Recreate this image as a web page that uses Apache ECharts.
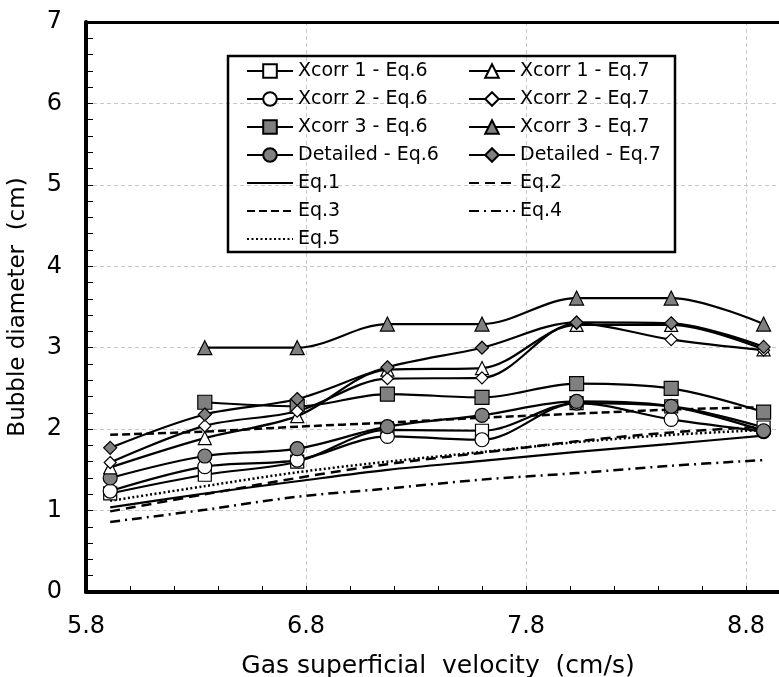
<!DOCTYPE html>
<html>
<head>
<meta charset="utf-8">
<script src="https://cdn.jsdelivr.net/npm/echarts@6/dist/echarts.min.js"></script>
<style>
html, body { margin: 0; padding: 0; background: #fff; }
#chart { width: 779px; height: 677px; }
</style>
</head>
<body>
<div id="chart"></div>
<script>
// gas superficial velocity (cm/s)
const xVals = [5.91, 6.34, 6.76, 7.17, 7.60, 8.03, 8.46, 8.88];

// bubble diameter (cm)
const xcorr1Eq6 = [1.21, 1.44, 1.60, 1.99, 1.98, 2.32, 2.28, 2.02];
const xcorr2Eq6 = [1.24, 1.54, 1.62, 1.91, 1.87, 2.32, 2.12, 1.97];
const xcorr3Eq6 = [null, 2.33, 2.28, 2.43, 2.39, 2.56, 2.50, 2.21];
const detailedEq6 = [1.40, 1.67, 1.76, 2.03, 2.17, 2.34, 2.28, 1.98];
const xcorr1Eq7 = [1.53, 1.89, 2.16, 2.73, 2.75, 3.28, 3.28, 2.98];
const xcorr2Eq7 = [1.59, 2.04, 2.22, 2.62, 2.63, 3.30, 3.10, 2.97];
const xcorr3Eq7 = [null, 3.00, 3.00, 3.29, 3.29, 3.61, 3.61, 3.29];
const detailedEq7 = [1.77, 2.18, 2.37, 2.76, 3.00, 3.31, 3.30, 3.01];

// correlations
const eq1 = [1.04, 1.21, 1.36, 1.50, 1.61, 1.72, 1.82, 1.92];
const eq2 = [0.99, 1.20, 1.40, 1.57, 1.71, 1.85, 1.96, 2.03];
const eq3 = [1.93, 1.97, 2.03, 2.08, 2.14, 2.19, 2.24, 2.27];
const eq4 = [0.86, 1.01, 1.17, 1.27, 1.38, 1.46, 1.55, 1.62];
const eq5 = [1.12, 1.30, 1.47, 1.60, 1.72, 1.84, 1.93, 1.99];

const legendLeft = ['Xcorr 1 - Eq.6', 'Xcorr 2 - Eq.6', 'Xcorr 3 - Eq.6', 'Detailed - Eq.6', 'Eq.1', 'Eq.3', 'Eq.5'];
const legendRight = ['Xcorr 1 - Eq.7', 'Xcorr 2 - Eq.7', 'Xcorr 3 - Eq.7', 'Detailed - Eq.7', 'Eq.2', 'Eq.4'];

const GREY = '#808080';
const FONT = 'DejaVu Sans';

function pts(vals) {
  const out = [];
  vals.forEach((v, i) => { if (v != null) out.push([xVals[i], v]); });
  return out;
}

// marker series
function mk(name, vals, symbol, size, fill) {
  return {
    name: name,
    type: 'line',
    data: pts(vals),
    smooth: 0.33,
    symbol: symbol,
    symbolSize: size,
    showAllSymbol: true,
    itemStyle: { color: fill, borderColor: '#000', borderWidth: 1.2 },
    lineStyle: { color: '#000', width: 2.2 },
    emphasis: { disabled: true },
    z: 3
  };
}

// equation curves, no markers (legend symbol made invisible)
function eq(name, vals, dash, width) {
  return {
    name: name,
    type: 'line',
    data: pts(vals),
    smooth: 0.33,
    symbol: 'none',
    itemStyle: { color: 'rgba(0,0,0,0)', borderWidth: 0 },
    lineStyle: { color: '#000', width: width, type: dash },
    emphasis: { disabled: true },
    z: 2
  };
}

const chart = echarts.init(document.getElementById('chart'));

const legendBase = {
  orient: 'vertical',
  top: 61,
  padding: 0,
  itemWidth: 46,
  itemHeight: 17,
  itemGap: 8,
  selectedMode: false,
  textStyle: { fontFamily: FONT, fontSize: 19, color: '#000', lineHeight: 20 }
};

chart.setOption({
  animation: false,
  backgroundColor: '#fff',
  grid: {
    left: 86, top: 22, right: -11, bottom: 85,
    containLabel: false, outerBoundsMode: 'none'
  },
  legend: [
    Object.assign({}, legendBase, { left: 246, data: legendLeft }),
    Object.assign({}, legendBase, { left: 468, data: legendRight })
  ],
  graphic: [{
    type: 'rect',
    shape: { x: 228, y: 56, width: 447, height: 196 },
    style: { fill: 'none', stroke: '#000', lineWidth: 2.5 },
    z: 10
  }],
  xAxis: [{
    type: 'value',
    min: 5.8, max: 9.0, interval: 1,
    name: 'Gas superficial  velocity  (cm/s)',
    nameLocation: 'middle',
    nameGap: 62,
    nameTextStyle: { fontFamily: FONT, fontSize: 25, color: '#000' },
    axisLine: { show: true, lineStyle: { color: '#000', width: 4 } },
    axisTick: { show: true, inside: true, length: 6, lineStyle: { color: '#000', width: 1 } },
    minorTick: { show: true, splitNumber: 5, length: 6, lineStyle: { color: '#000', width: 1 } },
    axisLabel: {
      fontFamily: FONT, fontSize: 24, color: '#000', margin: 23,
      formatter: v => (v > 8.9 ? '' : v.toFixed(1))
    },
    splitLine: { show: true, lineStyle: { color: '#c8c8c8', width: 1, type: [4, 3] } }
  }, {
    // top frame line
    type: 'value',
    position: 'top',
    min: 5.8, max: 9.0,
    axisLine: { show: true, lineStyle: { color: '#000', width: 3 } },
    axisTick: { show: false },
    axisLabel: { show: false },
    splitLine: { show: false }
  }],
  yAxis: {
    type: 'value',
    min: 0, max: 7, interval: 1,
    name: 'Bubble diameter  (cm)',
    nameLocation: 'middle',
    nameGap: 56,
    nameTextStyle: { fontFamily: FONT, fontSize: 23, color: '#000' },
    axisLine: { show: true, lineStyle: { color: '#000', width: 4 } },
    axisTick: { show: true, inside: true, length: 7, lineStyle: { color: '#000', width: 1 } },
    minorTick: { show: true, splitNumber: 5, length: 7, lineStyle: { color: '#000', width: 1 } },
    axisLabel: { fontFamily: FONT, fontSize: 24, color: '#000', margin: 24 },
    splitLine: { show: true, lineStyle: { color: '#c8c8c8', width: 1, type: [4, 3] } }
  },
  series: [
    eq('Eq.1', eq1, 'solid', 2.2),
    eq('Eq.2', eq2, [10, 6], 2.5),
    eq('Eq.3', eq3, [8, 4], 2.5),
    eq('Eq.4', eq4, [10, 5, 2, 5], 2.5),
    eq('Eq.5', eq5, [2, 2.5], 2.5),
    mk('Xcorr 1 - Eq.6', xcorr1Eq6, 'rect', 13, '#fff'),
    mk('Xcorr 2 - Eq.6', xcorr2Eq6, 'circle', 14, '#fff'),
    mk('Xcorr 3 - Eq.6', xcorr3Eq6, 'rect', 14, GREY),
    mk('Detailed - Eq.6', detailedEq6, 'circle', 14, GREY),
    mk('Xcorr 1 - Eq.7', xcorr1Eq7, 'triangle', 13, '#fff'),
    mk('Xcorr 2 - Eq.7', xcorr2Eq7, 'diamond', 12, '#fff'),
    mk('Xcorr 3 - Eq.7', xcorr3Eq7, 'triangle', 14, GREY),
    mk('Detailed - Eq.7', detailedEq7, 'diamond', 13, GREY)
  ]
});
</script>
</body>
</html>
